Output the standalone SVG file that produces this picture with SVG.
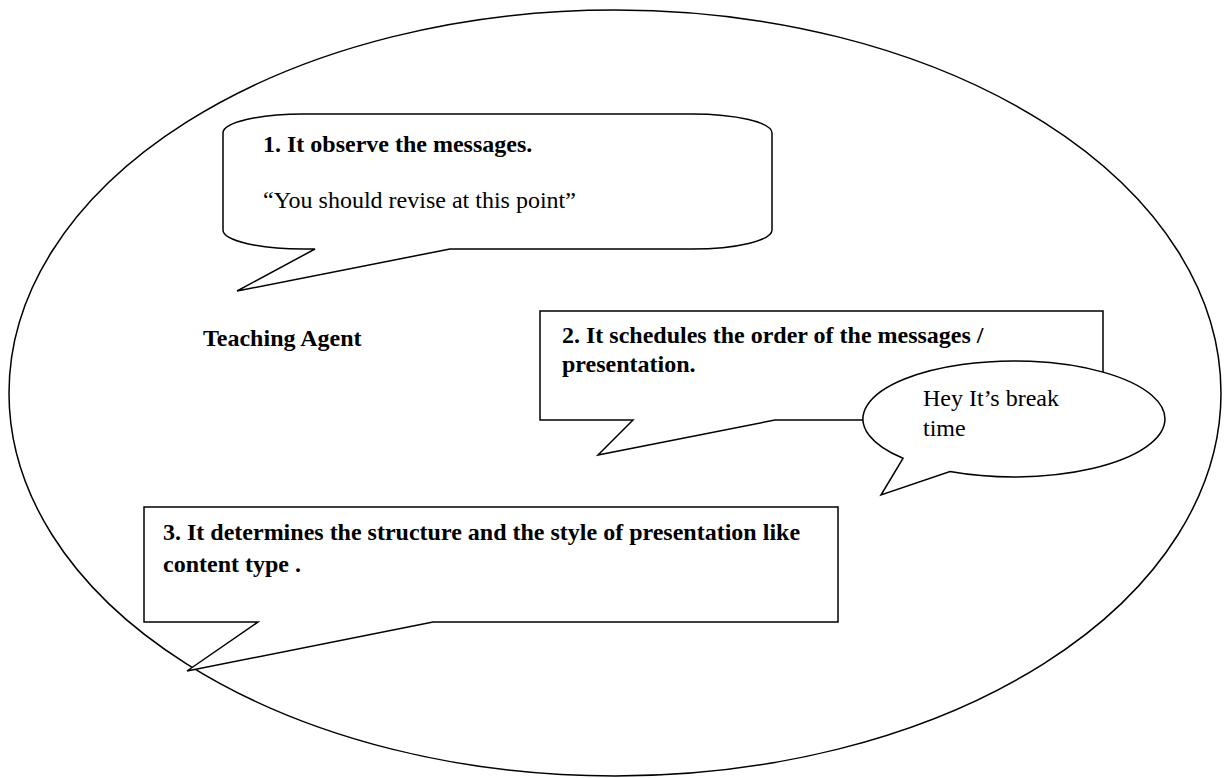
<svg xmlns="http://www.w3.org/2000/svg" width="1227" height="778" viewBox="0 0 1227 778">
<style>
.shape{fill:#fff;stroke:#000;stroke-width:1.5;stroke-linejoin:miter}
.outer{fill:none;stroke:#000;stroke-width:1.5}
.t{font-family:"Liberation Serif","Times New Roman",serif;font-size:24px;fill:#000}
.b{font-weight:bold}
</style>
<rect x="0" y="0" width="1227" height="778" fill="#fff"/>
<g id="agent-boundary">
<ellipse class="outer" cx="615" cy="393" rx="606" ry="383"/>
<text class="t b" x="203" y="346">Teaching Agent</text>
</g>
<g id="callout-1">
<path class="shape" d="M303,114 H692 A80,19 0 0 1 772,133 V230 A80,19 0 0 1 692,249 H450 L237,291 L315,249 H303 A80,19 0 0 1 223,230 V133 A80,19 0 0 1 303,114 Z"/>
<text class="t b" x="263" y="152">1. It observe the messages.</text>
<text class="t" x="263" y="208">“You should revise at this point”</text>
</g>
<g id="callout-2">
<path class="shape" d="M540,311 H1103 V420 H775 L598,455 L633,420 H540 Z"/>
<text class="t b" x="562" y="343">2. It schedules the order of the messages /</text>
<text class="t b" x="562" y="372">presentation.</text>
</g>
<g id="callout-break">
<path class="shape" d="M903,458.3 L881,495 L950,471.5 A151,58 0 1 0 903,458.3 Z"/>
<text class="t" x="923" y="406">Hey It’s break</text>
<text class="t" x="923" y="436">time</text>
</g>
<g id="callout-3">
<path class="shape" d="M144,507 H838 V622 H433 L187,671 L258,622 H144 Z"/>
<text class="t b" x="163" y="540">3. It determines the structure and the style of presentation like</text>
<text class="t b" x="163" y="572">content type .</text>
</g>
<g id="connectors"></g>
</svg>
